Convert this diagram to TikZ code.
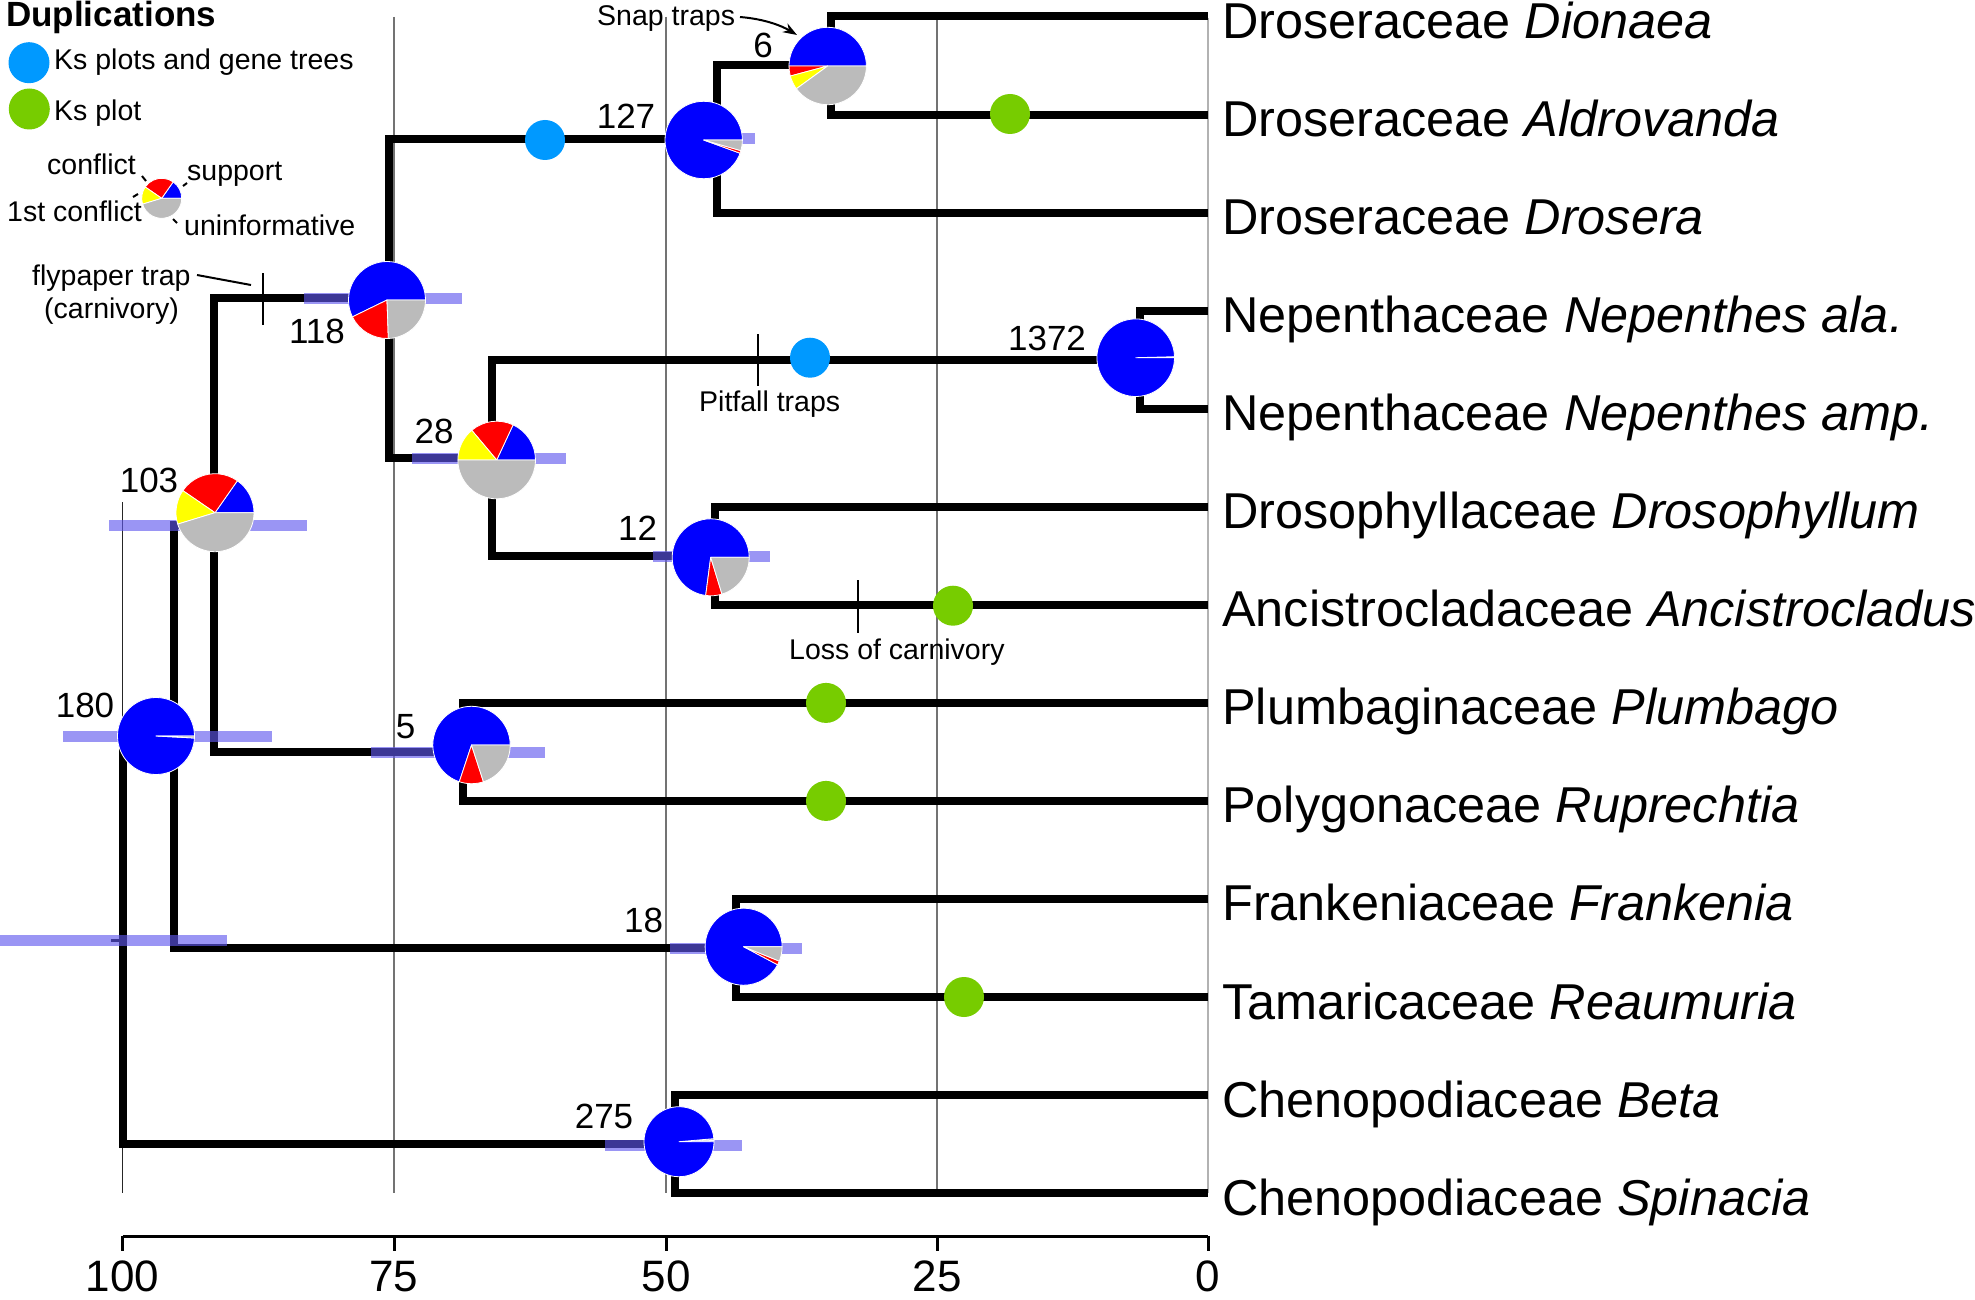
\documentclass[tikz,border=0pt]{standalone}
\usepackage{fontspec}
\setmainfont{Liberation Sans}
\usetikzlibrary{arrows.meta,calc}
\definecolor{pblue}{RGB}{0,0,255}
\definecolor{pred}{RGB}{255,0,0}
\definecolor{pyel}{RGB}{255,255,0}
\definecolor{pgray}{RGB}{187,187,187}
\definecolor{dblue}{RGB}{0,153,255}
\definecolor{dgreen}{RGB}{119,204,0}
\definecolor{hpdc}{RGB}{96,88,239}
\newcommand{\piechart}[3]{%
  \foreach \sa/\sb/\sc in {#3}{%
    \fill[fill=\sc, draw=white, line width=0.8pt, line join=round] (#1.center) -- ++(\sa:#2pt) arc[start angle=\sa, end angle=\sb, radius=#2pt] -- cycle;
  }%
}
\begin{document}
\begin{tikzpicture}[x=1pt,y=-1pt,
  br/.style={line width=8pt, line join=miter, line cap=butt},
  hpdbar/.style={line width=11pt, draw=hpdc, draw opacity=0.63},
  gridln/.style={line width=1.3pt, draw=black!55},
  tipl/.style={anchor=base west, inner sep=0pt, font=\fontsize{50.4}{60}\selectfont},
  numl/.style={anchor=base, inner sep=0pt, font=\fontsize{35}{42}\selectfont},
  smalll/.style={anchor=base west, inner sep=0pt, font=\fontsize{28.5}{34}\selectfont},
  axl/.style={anchor=base, inner sep=0pt, font=\fontsize{44}{50}\selectfont},
  dotn/.style={circle, minimum size=40pt, inner sep=0pt, draw=none},
  pien/.style={circle, inner sep=0pt, draw=none},
  marker/.style={line width=2pt},
  leader/.style={line width=2pt}
]
\useasboundingbox (0,0) rectangle (1975,1300);
\fill[white] (0,0) rectangle (1975,1300);

% grid lines
\draw[line width=1.1pt, draw=black!85] (122.5,502) -- (122.5,1193);
\draw[gridln] (394,17) -- (394,1193);
\draw[gridln] (666,17) -- (666,1193);
\draw[gridln] (937,17) -- (937,1193);
\draw[line width=2pt, draw=black!30] (1208,18) -- (1208,1193);

% tree coordinates
\coordinate (R) at (122.5,940.3);
\coordinate (Rstem) at (111,940.3);
\coordinate (A) at (174,736.6);
\coordinate (B) at (214,525.1);
\coordinate (C) at (389,298.4);
\coordinate (N127) at (716.7,139);
\coordinate (N6) at (831,65.5);
\coordinate (N28) at (492,457.7);
\coordinate (NNep) at (1140,359.7);
\coordinate (N12) at (715,555.8);
\coordinate (N5) at (463,751.9);
\coordinate (N18) at (735.5,948);
\coordinate (N275) at (675,1144);
\foreach \i in {0,...,12}{\coordinate (T\i) at (1208,{16.5+98.05*\i});}

% branches
\draw[br] (R) |- (A);
\draw[br] (R) |- (N275);
\draw[br] (A) |- (B);
\draw[br] (A) |- (N18);
\draw[br] (B) |- (C);
\draw[br] (B) |- (N5);
\draw[br] (C) |- (N127);
\draw[br] (C) |- (N28);
\draw[br] (N127) |- (N6);
\draw[br] (N127) |- (T2);
\draw[br] (N6) |- (T0);
\draw[br] (N6) |- (T1);
\draw[br] (N28) |- (NNep);
\draw[br] (N28) |- (N12);
\draw[br] (NNep) |- (T3);
\draw[br] (NNep) |- (T4);
\draw[br] (N12) |- (T5);
\draw[br] (N12) |- (T6);
\draw[br] (N5) |- (T7);
\draw[br] (N5) |- (T8);
\draw[br] (N18) |- (T9);
\draw[br] (N18) |- (T10);
\draw[br] (N275) |- (T11);
\draw[br] (N275) |- (T12);
\draw[line width=3pt] (Rstem) -- (R);

% HPD bars
\draw[hpdbar] (0,940.3) -- (227,940.3);
\draw[hpdbar] (63,736.6) -- (272,736.6);
\draw[hpdbar] (109,525.4) -- (307,525.4);
\draw[hpdbar] (304,298.5) -- (462,298.5);
\draw[hpdbar] (680,139) -- (755,139);
\draw[hpdbar] (412,458) -- (566,458);
\draw[hpdbar] (653,556) -- (770,556);
\draw[hpdbar] (371,752.5) -- (545,752.5);
\draw[hpdbar] (670,948.5) -- (801.6,948.5);
\draw[hpdbar] (605,1145) -- (742,1145);

% markers on branches
\draw[marker] (263,273) -- (263,325);
\draw[marker] (758,334) -- (758,386);
\draw[marker] (857.7,580) -- (857.7,632.7);

% duplication dots
\node[dotn, fill=dblue] (db1) at (545,140) {};
\node[dotn, fill=dblue] (db2) at (810,357.7) {};
\node[dotn, fill=dgreen] (dg1) at (1010,114) {};
\node[dotn, fill=dgreen] (dg2) at (953,605.7) {};
\node[dotn, fill=dgreen] (dg3) at (826,702.9) {};
\node[dotn, fill=dgreen] (dg4) at (826,800.9) {};
\node[dotn, fill=dgreen] (dg5) at (964,997) {};

% pies
\node[pien, minimum size=77pt] (p180) at (156,736) {};
\piechart{p180}{38.5}{0/357/pblue, 357/360/pgray}
\node[pien, minimum size=78pt] (p103) at (215,512.7) {};
\piechart{p103}{39}{0/55/pblue, 55/145.5/pred, 145.5/197/pyel, 197/360/pgray}
\node[pien, minimum size=77pt] (p118) at (387,300) {};
\piechart{p118}{38.5}{0/206/pblue, 206/272/pred, 272/360/pgray}
\node[pien, minimum size=77pt] (p127) at (703.7,140) {};
\piechart{p127}{38.7}{0/340/pblue, 340/344/pred, 344/360/pgray}
\node[pien, minimum size=77pt] (p6) at (827.7,66) {};
\piechart{p6}{38.7}{0/180/pblue, 180/195/pred, 195/216/pyel, 216/360/pgray}
\node[pien, minimum size=77pt] (p28) at (496.7,460) {};
\piechart{p28}{38.8}{0/65/pblue, 65/130/pred, 130/180/pyel, 180/360/pgray}
\node[pien, minimum size=77pt] (p12) at (710.7,557.3) {};
\piechart{p12}{38.5}{0/262.5/pblue, 262.5/287/pred, 287/360/pgray}
\node[pien, minimum size=77pt] (p5) at (471.5,745) {};
\piechart{p5}{38.7}{0/251.6/pblue, 251.6/288/pred, 288/360/pgray}
\node[pien, minimum size=77pt] (p18) at (743.6,946.7) {};
\piechart{p18}{38.5}{0/332/pblue, 332/338/pred, 338/360/pgray}
\node[pien, minimum size=70pt] (p275) at (679,1141.7) {};
\piechart{p275}{35}{0/2/pblue, 2/5/pgray, 5/360/pblue}
\node[pien, minimum size=77pt] (p1372) at (1135.7,357.7) {};
\piechart{p1372}{38.8}{0/1.5/pgray, 1.5/360/pblue}

% node numbers
\node[numl] (l180) at (85,717) {180};
\node[numl] (l103) at (149,492) {103};
\node[numl] (l118) at (317,343) {118};
\node[numl] (l127) at (626,129) {127};
\node[numl] (l6) at (763,58) {6};
\node[numl] (l28) at (434,443) {28};
\node[numl] (l12) at (637.5,540) {12};
\node[numl] (l5) at (405.5,738) {5};
\node[numl] (l18) at (643.5,932) {18};
\node[numl] (l275) at (604,1128) {275};
\node[numl] (l1372) at (1047,350.5) {1372};

% tip labels
\node[tipl] (s0) at ($(T0)+(14,22)$) {Droseraceae \textit{Dionaea}};
\node[tipl] (s1) at ($(T1)+(14,22)$) {Droseraceae \textit{Aldrovanda}};
\node[tipl] (s2) at ($(T2)+(14,22)$) {Droseraceae \textit{Drosera}};
\node[tipl] (s3) at ($(T3)+(14,22)$) {Nepenthaceae \textit{Nepenthes ala.}};
\node[tipl] (s4) at ($(T4)+(14,22)$) {Nepenthaceae \textit{Nepenthes amp.}};
\node[tipl] (s5) at ($(T5)+(14,22)$) {Drosophyllaceae \textit{Drosophyllum}};
\node[tipl] (s6) at ($(T6)+(14,22)$) {Ancistrocladaceae \textit{Ancistrocladus}};
\node[tipl] (s7) at ($(T7)+(14,22)$) {Plumbaginaceae \textit{Plumbago}};
\node[tipl] (s8) at ($(T8)+(14,22)$) {Polygonaceae \textit{Ruprechtia}};
\node[tipl] (s9) at ($(T9)+(14,22)$) {Frankeniaceae \textit{Frankenia}};
\node[tipl] (s10) at ($(T10)+(14,22)$) {Tamaricaceae \textit{Reaumuria}};
\node[tipl] (s11) at ($(T11)+(14,22)$) {Chenopodiaceae \textit{Beta}};
\node[tipl] (s12) at ($(T12)+(14,22)$) {Chenopodiaceae \textit{Spinacia}};

% annotations
\node[smalll] (snap) at (597,26) {Snap traps};
\coordinate (snapA) at (740,17);
\coordinate (snapB) at (797,35);
\draw[line width=2pt, -{Stealth[length=14pt, width=10pt]}] (snapA) .. controls (765,19) and (782,26) .. (snapB);
\node[smalll] (pit) at (699,411.7) {Pitfall traps};
\node[smalll] (loss) at (789,659) {Loss of carnivory};
\node[smalll] (fly1) at (32,285) {flypaper trap};
\node[smalll] (fly2) at (44,318) {(carnivory)};
\coordinate (flyA) at (197,275);
\coordinate (flyB) at (251,285);
\draw[leader] (flyA) -- (flyB);

% legend
\node[anchor=base west, inner sep=0pt, font=\fontsize{35}{42}\selectfont\bfseries] (dup) at (6,27) {Duplications};
\node[dotn, fill=dblue, minimum size=41pt] (lgb) at (29,62.7) {};
\node[smalll] (lgbt) at (54,69.3) {Ks plots and gene trees};
\node[dotn, fill=dgreen, minimum size=41pt] (lgg) at (29.3,109) {};
\node[smalll] (lggt) at (54,120.7) {Ks plot};
\node[pien, minimum size=40pt] (plg) at (161.7,198.3) {};
\piechart{plg}{20}{0/55/pblue, 55/145.5/pred, 145.5/197/pyel, 197/360/pgray}
\node[smalll] (lc) at (47,175) {conflict};
\node[smalll] (ls) at (187,181) {support};
\node[smalll] (l1c) at (7,222) {1st conflict};
\node[smalll] (lu) at (184,235) {uninformative};
\draw[leader] (142,176) -- (146,181);
\draw[leader] (183,186) -- (187,183);
\draw[leader] (133,197) -- (138,194);
\draw[leader] (173,219) -- (177,223);

% axis
\coordinate (ax100) at (122.5,1236);
\coordinate (ax0) at (1208,1236);
\draw[line width=3pt] (ax100) -- (ax0);
\foreach \xx/\lab in {122.5/100, 394/75, 666/50, 937/25, 1208/0}{
  \draw[line width=3pt] (\xx,1236) -- (\xx,1251);
  \node[axl] (axl\lab) at (\xx,1291) {\lab};
}
\end{tikzpicture}
\end{document}
